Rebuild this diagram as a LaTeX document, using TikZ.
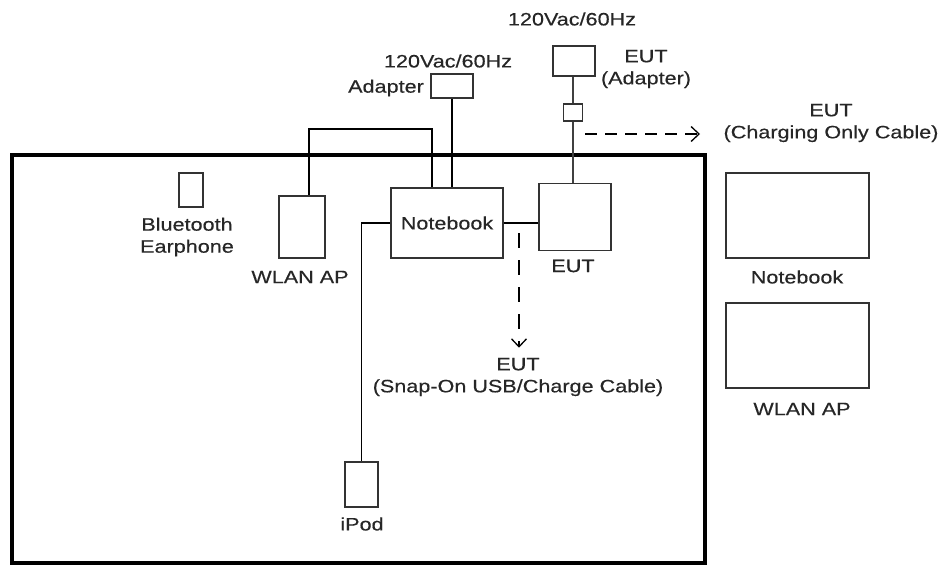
\documentclass[tikz,border=0pt]{standalone}
\usepackage{fontspec}
\newfontfamily\lblfont[FakeStretch=1.2,FakeBold=0.4]{Liberation Sans}
\usetikzlibrary{arrows.meta,positioning}

\tikzset{
  lbl/.style={font=\lblfont\fontsize{18}{22}\selectfont, text=black!85, inner sep=0pt, align=center},
  unit/.style={draw=black!80, line width=1.6pt, inner sep=0pt},
  wire/.style={line width=1.6pt},
  cable/.style={line width=1.3pt, dash pattern=on 12pt off 8pt, -{Straight Barb[length=8pt,width=15pt]}},
}

\begin{document}
\begin{tikzpicture}[x=1pt,y=-1pt]
    \useasboundingbox (0,0) rectangle (941,565);

    % Test table
    \draw[line width=4pt] (12,155) rectangle (705,563);

    % Units on the table
    \node[unit, minimum width=24pt, minimum height=34pt] (bt) at (191,190) {};
    \node[unit, minimum width=46pt, minimum height=62pt] (wlan) at (302,227) {};
    \node[unit, minimum width=112pt, minimum height=70pt, lbl] (nb) at (447,223) {Notebook};
    \node[unit, minimum width=72pt, minimum height=67pt] (eut) at (575,217) {};
    \node[unit, minimum width=33pt, minimum height=45pt] (ipod) at (361.5,484.5) {};

    % Power adapters
    \node[unit, minimum width=42pt, minimum height=24pt] (adp) at (452,86) {};
    \node[unit, minimum width=42pt, minimum height=30pt] (eutadp) at (574,61) {};
    \node[unit, minimum width=19pt, minimum height=17pt] (plug) at (573,112.5) {};

    % Units off the table
    \node[unit, minimum width=143pt, minimum height=85pt] (nbr) at (797.5,215.5) {};
    \node[unit, minimum width=143pt, minimum height=85pt] (wlanr) at (797.5,345.5) {};

    % Labels
    \node[lbl] (btl) at (187,237) {Bluetooth\\Earphone};
    \node[lbl] (wlanl) at (300,277) {WLAN AP};
    \node[lbl] (eutl) at (573,266) {EUT};
    \node[lbl] (ipodl) at (362,524) {iPod};
    \node[lbl] (adpl) at (386,88) {Adapter};
    \node[lbl] (acl) at (448,61) {120Vac/60Hz};
    \node[lbl] (actop) at (572,19) {120Vac/60Hz};
    \node[lbl] (eutadpl) at (646,69) {EUT\\(Adapter)};
    \node[lbl] (chgl) at (831,123) {EUT\\(Charging Only Cable)};
    \node[lbl] (snapl) at (518,377) {EUT\\(Snap-On USB/Charge Cable)};
    \node[lbl] (nbrl) at (797,277) {Notebook};
    \node[lbl] (wlanrl) at (802,409) {WLAN AP};

    % Wiring
    \draw[wire] ([xshift=-15pt]nb.north) -- ++(0,-58) -| ([xshift=7pt]wlan.north);
    \draw[wire] (adp.south) -- (adp.south |- nb.north);
    \draw[wire] (nb.west) -| (ipod.north);
    \draw[wire] (nb.east) -- (nb.east -| eut.west);
    \draw[wire, black!75] ([xshift=-1pt]eutadp.south) -- (plug.north);
    \draw[wire, black!75] (plug.south) -- (plug.south |- eut.north);

    % Cable options
    \coordinate (chgA) at (585,134);
    \coordinate (chgB) at (700,134);
    \coordinate (snapA) at (519,233);
    \draw[cable] (chgA) -- (chgB);
    \draw[cable, dash pattern=on 15pt off 12pt] (snapA) -- ([yshift=10pt]snapA |- snapl.north);
\end{tikzpicture}
\end{document}
